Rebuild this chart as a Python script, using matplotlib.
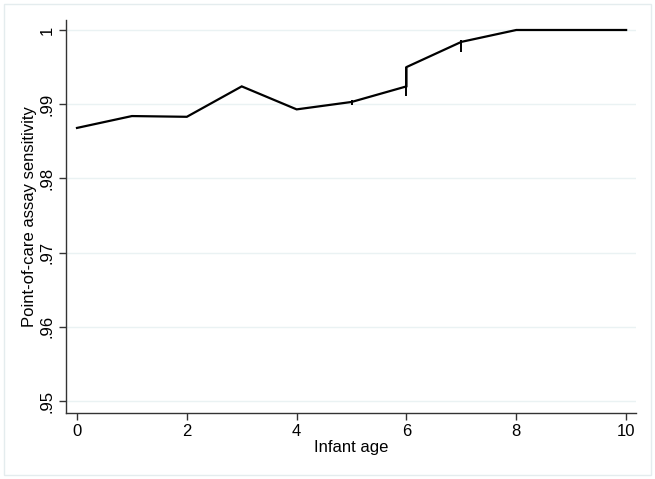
import matplotlib.pyplot as plt
import matplotlib.patches as patches

plt.rcParams['font.family'] = ['Liberation Sans', 'DejaVu Sans']

# estimated sensitivity by infant age
age = [0, 1, 2, 3, 4, 5, 6, 6, 7, 8, 9, 10]
sens = [0.9868, 0.9884, 0.9883, 0.9924, 0.9893, 0.9903, 0.9924, 0.9950, 0.9984, 1.0, 1.0, 1.0]

# small vertical spikes on the line
spike_x = [5, 6, 7]
spike_lo = [0.9899, 0.9911, 0.9970]
spike_hi = [0.9906, 0.9950, 0.9986]

yticks = [0.95, 0.96, 0.97, 0.98, 0.99, 1.0]
ylabels = ['.95', '.96', '.97', '.98', '.99', '1']
xticks = [0, 2, 4, 6, 8, 10]

fig = plt.figure(figsize=(6.55, 4.79), dpi=100)
ax = fig.add_axes([0.1008, 0.1378, 0.8702, 0.8205])

# faint outer frame
fig.patches.append(patches.Rectangle((0.006, 0.008), 0.988, 0.984, transform=fig.transFigure,
                                     fill=False, edgecolor='#e4ecee', linewidth=1.0))

ax.plot(age, sens, color='black', linewidth=1.6, solid_joinstyle='miter')
ax.vlines(spike_x, spike_lo, spike_hi, color='black', linewidth=1.4)

ax.set_xlim(-0.2, 10.18)
ax.set_ylim(0.94838, 1.00135)
ax.set_yticks(yticks)
ax.set_yticklabels(ylabels, rotation=90, va='center')
ax.set_xticks(xticks)
ax.grid(axis='y', color='#eaf2f3', linewidth=1.0)
ax.set_axisbelow(True)

for s in ['top', 'right']:
    ax.spines[s].set_visible(False)
for s in ['left', 'bottom']:
    ax.spines[s].set_color('#333333')
    ax.spines[s].set_linewidth(1.0)
ax.tick_params(axis='both', direction='out', length=5, width=1.0, color='#333333',
               labelsize=12, labelcolor='black', pad=3)

ax.set_xlabel('Infant age', fontsize=12, labelpad=1)
ax.set_ylabel('Point-of-care assay sensitivity', fontsize=12, labelpad=2)

fig.savefig('out.png', dpi=100)
